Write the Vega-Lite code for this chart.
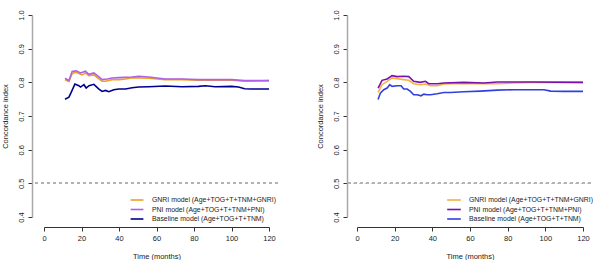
{
  "$schema": "https://vega.github.io/schema/vega-lite/v6.json",
  "padding": {"left": 1, "top": 9, "right": 0, "bottom": 0},
  "autosize": {"type": "pad"},
  "background": "white",
  "datasets": {
    "left": [
      {"m": "B", "t": 11.2, "c": 0.750}, {"m": "B", "t": 13.3, "c": 0.756}, {"m": "B", "t": 14.5, "c": 0.770}, {"m": "B", "t": 16.5, "c": 0.795},
      {"m": "B", "t": 18.6, "c": 0.790}, {"m": "B", "t": 19.5, "c": 0.786}, {"m": "B", "t": 21.3, "c": 0.793}, {"m": "B", "t": 22.5, "c": 0.783},
      {"m": "B", "t": 24.0, "c": 0.790}, {"m": "B", "t": 26.6, "c": 0.794}, {"m": "B", "t": 29.3, "c": 0.780}, {"m": "B", "t": 31.0, "c": 0.773},
      {"m": "B", "t": 32.8, "c": 0.776}, {"m": "B", "t": 34.6, "c": 0.772}, {"m": "B", "t": 37.2, "c": 0.778}, {"m": "B", "t": 39.9, "c": 0.780},
      {"m": "B", "t": 43.5, "c": 0.780}, {"m": "B", "t": 47.0, "c": 0.784}, {"m": "B", "t": 50.5, "c": 0.786}, {"m": "B", "t": 55.9, "c": 0.787},
      {"m": "B", "t": 64.7, "c": 0.789}, {"m": "B", "t": 73.6, "c": 0.787}, {"m": "B", "t": 82.4, "c": 0.788}, {"m": "B", "t": 86.0, "c": 0.790},
      {"m": "B", "t": 91.3, "c": 0.787}, {"m": "B", "t": 100.0, "c": 0.788}, {"m": "B", "t": 103.7, "c": 0.786}, {"m": "B", "t": 107.0, "c": 0.781},
      {"m": "B", "t": 110.8, "c": 0.780}, {"m": "B", "t": 120.0, "c": 0.780},
      {"m": "G", "t": 11.2, "c": 0.808}, {"m": "G", "t": 13.3, "c": 0.803}, {"m": "G", "t": 15.0, "c": 0.826}, {"m": "G", "t": 16.8, "c": 0.830},
      {"m": "G", "t": 18.6, "c": 0.826}, {"m": "G", "t": 20.4, "c": 0.822}, {"m": "G", "t": 22.1, "c": 0.828}, {"m": "G", "t": 23.9, "c": 0.820},
      {"m": "G", "t": 26.6, "c": 0.822}, {"m": "G", "t": 29.3, "c": 0.810}, {"m": "G", "t": 31.0, "c": 0.803}, {"m": "G", "t": 32.8, "c": 0.803},
      {"m": "G", "t": 36.3, "c": 0.808}, {"m": "G", "t": 39.9, "c": 0.808}, {"m": "G", "t": 43.5, "c": 0.810}, {"m": "G", "t": 47.0, "c": 0.814},
      {"m": "G", "t": 55.9, "c": 0.812}, {"m": "G", "t": 64.7, "c": 0.808}, {"m": "G", "t": 73.6, "c": 0.808}, {"m": "G", "t": 82.4, "c": 0.806},
      {"m": "G", "t": 100.0, "c": 0.806}, {"m": "G", "t": 107.0, "c": 0.803}, {"m": "G", "t": 120.0, "c": 0.805},
      {"m": "P", "t": 11.2, "c": 0.812}, {"m": "P", "t": 13.3, "c": 0.805}, {"m": "P", "t": 15.0, "c": 0.832}, {"m": "P", "t": 17.2, "c": 0.834},
      {"m": "P", "t": 19.5, "c": 0.828}, {"m": "P", "t": 22.1, "c": 0.833}, {"m": "P", "t": 23.9, "c": 0.824}, {"m": "P", "t": 26.6, "c": 0.828},
      {"m": "P", "t": 29.3, "c": 0.816}, {"m": "P", "t": 31.0, "c": 0.808}, {"m": "P", "t": 33.7, "c": 0.810}, {"m": "P", "t": 36.3, "c": 0.813},
      {"m": "P", "t": 39.9, "c": 0.814}, {"m": "P", "t": 47.0, "c": 0.816}, {"m": "P", "t": 50.5, "c": 0.818}, {"m": "P", "t": 55.9, "c": 0.816},
      {"m": "P", "t": 64.7, "c": 0.810}, {"m": "P", "t": 73.6, "c": 0.810}, {"m": "P", "t": 82.4, "c": 0.808}, {"m": "P", "t": 100.0, "c": 0.808},
      {"m": "P", "t": 107.0, "c": 0.805}, {"m": "P", "t": 120.0, "c": 0.805}
    ],
    "right": [
      {"m": "B", "t": 11.2, "c": 0.749}, {"m": "B", "t": 12.4, "c": 0.768}, {"m": "B", "t": 14.2, "c": 0.778}, {"m": "B", "t": 16.0, "c": 0.783},
      {"m": "B", "t": 17.4, "c": 0.793}, {"m": "B", "t": 18.6, "c": 0.788}, {"m": "B", "t": 21.3, "c": 0.790}, {"m": "B", "t": 23.4, "c": 0.790},
      {"m": "B", "t": 24.8, "c": 0.780}, {"m": "B", "t": 26.6, "c": 0.780}, {"m": "B", "t": 28.4, "c": 0.773}, {"m": "B", "t": 30.1, "c": 0.763},
      {"m": "B", "t": 31.9, "c": 0.763}, {"m": "B", "t": 34.0, "c": 0.760}, {"m": "B", "t": 35.5, "c": 0.765}, {"m": "B", "t": 37.2, "c": 0.763},
      {"m": "B", "t": 39.0, "c": 0.763}, {"m": "B", "t": 42.6, "c": 0.766}, {"m": "B", "t": 46.1, "c": 0.770}, {"m": "B", "t": 49.6, "c": 0.770},
      {"m": "B", "t": 56.7, "c": 0.772}, {"m": "B", "t": 65.6, "c": 0.774}, {"m": "B", "t": 74.5, "c": 0.777}, {"m": "B", "t": 83.3, "c": 0.778},
      {"m": "B", "t": 92.2, "c": 0.778}, {"m": "B", "t": 99.3, "c": 0.778}, {"m": "B", "t": 102.8, "c": 0.774}, {"m": "B", "t": 109.9, "c": 0.773},
      {"m": "B", "t": 120.0, "c": 0.773},
      {"m": "G", "t": 11.2, "c": 0.770}, {"m": "G", "t": 13.3, "c": 0.793}, {"m": "G", "t": 16.0, "c": 0.803}, {"m": "G", "t": 18.6, "c": 0.813},
      {"m": "G", "t": 21.3, "c": 0.811}, {"m": "G", "t": 24.8, "c": 0.808}, {"m": "G", "t": 27.5, "c": 0.806}, {"m": "G", "t": 30.1, "c": 0.796},
      {"m": "G", "t": 33.7, "c": 0.793}, {"m": "G", "t": 36.3, "c": 0.795}, {"m": "G", "t": 39.0, "c": 0.790}, {"m": "G", "t": 42.6, "c": 0.790},
      {"m": "G", "t": 46.1, "c": 0.795}, {"m": "G", "t": 56.7, "c": 0.797}, {"m": "G", "t": 67.4, "c": 0.796}, {"m": "G", "t": 74.5, "c": 0.796},
      {"m": "G", "t": 83.3, "c": 0.798}, {"m": "G", "t": 92.2, "c": 0.800}, {"m": "G", "t": 120.0, "c": 0.800},
      {"m": "P", "t": 11.2, "c": 0.783}, {"m": "P", "t": 13.3, "c": 0.806}, {"m": "P", "t": 16.0, "c": 0.810}, {"m": "P", "t": 18.6, "c": 0.820},
      {"m": "P", "t": 21.3, "c": 0.817}, {"m": "P", "t": 24.8, "c": 0.818}, {"m": "P", "t": 27.5, "c": 0.817}, {"m": "P", "t": 30.1, "c": 0.803},
      {"m": "P", "t": 33.7, "c": 0.800}, {"m": "P", "t": 36.3, "c": 0.803}, {"m": "P", "t": 38.1, "c": 0.796}, {"m": "P", "t": 42.6, "c": 0.796},
      {"m": "P", "t": 46.1, "c": 0.798}, {"m": "P", "t": 56.7, "c": 0.800}, {"m": "P", "t": 67.4, "c": 0.798}, {"m": "P", "t": 74.5, "c": 0.801},
      {"m": "P", "t": 92.2, "c": 0.801}, {"m": "P", "t": 120.0, "c": 0.800}
    ]
  },
  "hconcat": [
    {
      "width": 225, "height": 202,
      "data": {"name": "left"},
      "layer": [
        {"mark": {"type": "rule", "strokeDash": [3, 3], "color": "#b4b4b4", "strokeWidth": 1},
         "encoding": {"x": {"datum": -4.8}, "x2": {"datum": 124.8}, "y": {"datum": 0.5}}},
        {"mark": {"type": "line", "strokeWidth": 1.6},
         "encoding": {
           "x": {"field": "t", "type": "quantitative", "scale": {"domain": [0, 120], "nice": false, "zero": false},
                 "axis": {"title": "Time (months)", "values": [0, 20, 40, 60, 80, 100, 120], "tickCount": 12, "offset": 10, "labelOverlap": false}},
           "y": {"field": "c", "type": "quantitative", "scale": {"domain": [0.4, 1.0], "nice": false, "zero": false},
                 "axis": {"title": "Concordance index", "values": [0.4, 0.5, 0.6, 0.7, 0.8, 0.9, 1.0], "tickCount": 12, "format": ".1f", "offset": 12, "labelOverlap": false,
                          "labelAngle": 270, "labelAlign": "center", "labelBaseline": "bottom"}},
           "color": {"field": "m", "type": "nominal",
                     "scale": {"domain": ["G", "P", "B"], "range": ["#f0a020", "#b060e8", "#000090"]},
                     "legend": {"title": null, "orient": "none", "legendX": 88, "legendY": 180, "symbolType": "M-1.6,0H1.6", "symbolSize": 64, "symbolStrokeWidth": 1.6,
                                "labelExpr": "datum.value == 'G' ? 'GNRI model (Age+TOG+T+TNM+GNRI)' : datum.value == 'P' ? 'PNI model (Age+TOG+T+TNM+PNI)' : 'Baseline model (Age+TOG+T+TNM)'"}}
         }}
      ]
    },
    {
      "width": 226, "height": 202,
      "data": {"name": "right"},
      "layer": [
        {"mark": {"type": "rule", "strokeDash": [3, 3], "color": "#b4b4b4", "strokeWidth": 1},
         "encoding": {"x": {"datum": -4.8}, "x2": {"datum": 124.8}, "y": {"datum": 0.5}}},
        {"mark": {"type": "line", "strokeWidth": 1.6},
         "encoding": {
           "x": {"field": "t", "type": "quantitative", "scale": {"domain": [0, 120], "nice": false, "zero": false},
                 "axis": {"title": "Time (months)", "values": [0, 20, 40, 60, 80, 100, 120], "tickCount": 12, "offset": 10, "labelOverlap": false}},
           "y": {"field": "c", "type": "quantitative", "scale": {"domain": [0.4, 1.0], "nice": false, "zero": false},
                 "axis": {"title": "Concordance index", "values": [0.4, 0.5, 0.6, 0.7, 0.8, 0.9, 1.0], "tickCount": 12, "format": ".1f", "offset": 10, "labelOverlap": false,
                          "labelAngle": 270, "labelAlign": "center", "labelBaseline": "bottom"}},
           "color": {"field": "m", "type": "nominal",
                     "scale": {"domain": ["G", "P", "B"], "range": ["#f5b040", "#7a10b0", "#3040e0"]},
                     "legend": {"title": null, "orient": "none", "legendX": 92, "legendY": 180, "symbolType": "M-1.7,0H1.7", "symbolSize": 64, "symbolStrokeWidth": 1.6,
                                "labelExpr": "datum.value == 'G' ? 'GNRI model (Age+TOG+T+TNM+GNRI)' : datum.value == 'P' ? 'PNI model (Age+TOG+T+TNM+PNI)' : 'Baseline model (Age+TOG+T+TNM)'"}}
         }}
      ]
    }
  ],
  "spacing": 37,
  "resolve": {"scale": {"color": "independent"}, "legend": {"color": "independent"}},
  "config": {
    "view": {"stroke": null},
    "font": "Liberation Sans",
    "axis": {"grid": false, "domainColor": "#333", "tickColor": "#333", "domainWidth": 1, "tickSize": 4, "labelOverlap": false,
             "labelFont": "Liberation Sans", "labelFontSize": 7.5, "labelColor": "#222", "labelPadding": 3,
             "titleFont": "Liberation Sans", "titleFontSize": 7.5, "titleFontWeight": "normal", "titleColor": "#222", "titlePadding": 8},
    "axisX": {"labelFlush": false, "titlePadding": 11},
    "axisY": {"domainColor": "#a8a8a8", "domainWidth": 1.5},
    "legend": {"labelFont": "Liberation Sans", "labelFontSize": 6.9, "labelColor": "#222", "rowPadding": 0.5, "labelOffset": 10, "padding": 0}
  }
}
